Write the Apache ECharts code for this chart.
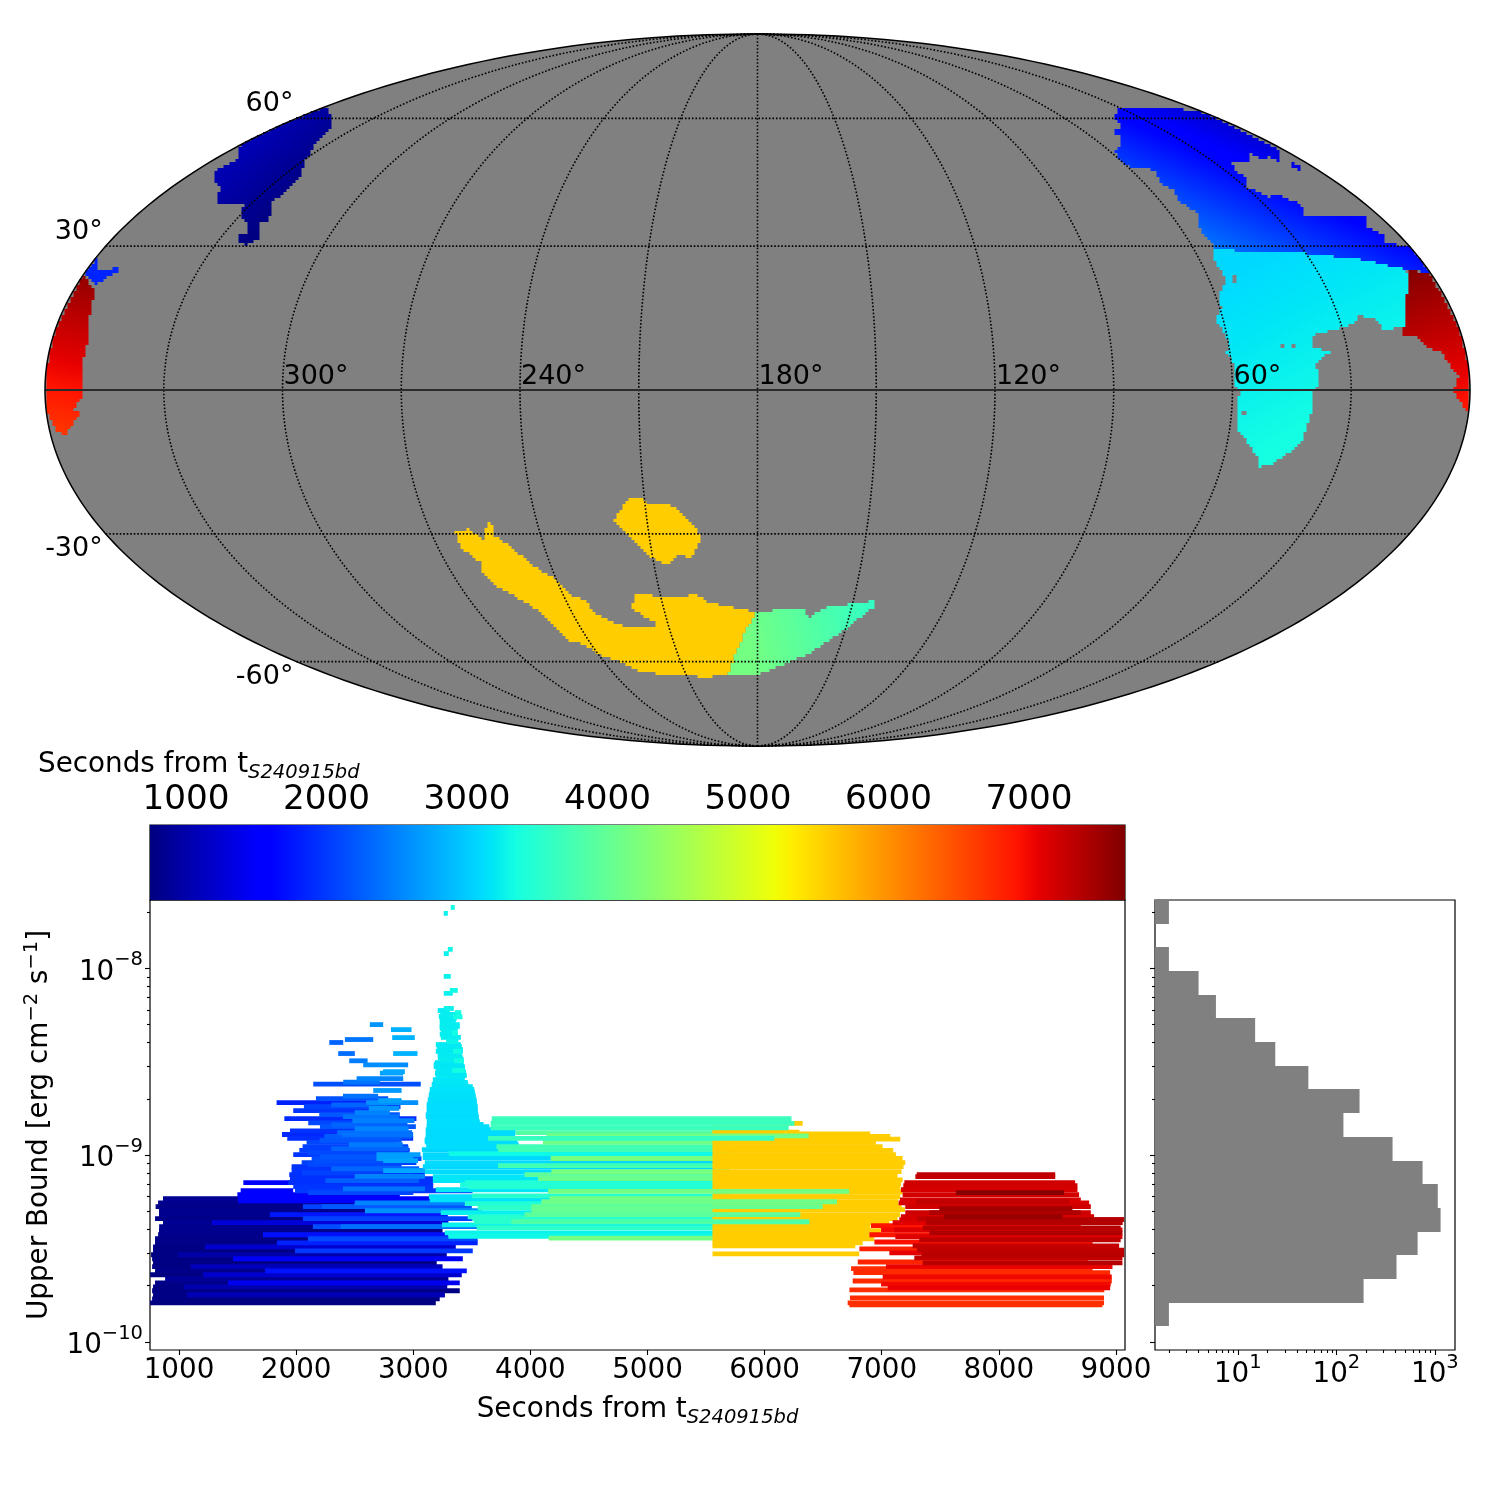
<!DOCTYPE html>
<html><head><meta charset="utf-8">
<style>html,body{margin:0;padding:0;background:#fff}#c{width:1500px;height:1500px}</style>
<script src="https://cdn.jsdelivr.net/npm/echarts@6/dist/echarts.min.js"></script>
</head><body><div id="c"></div>
<script>
const FONT = 'DejaVu Sans';
const colorMin = 744, colorMax = 7683;
const colorTicks = [1000,2000,3000,4000,5000,6000,7000];
const timeTicks = [1000,2000,3000,4000,5000,6000,7000,8000,9000];
const ubUnit = 1e-10;
const ubMajor = [1e-10,1e-9,1e-8];
const ubMinor = [2e-10,3e-10,4e-10,5e-10,6e-10,7e-10,8e-10,9e-10,2e-9,3e-9,4e-9,5e-9,6e-9,7e-9,8e-9,9e-9,2e-8];
const countMajor = [10,100,1000];
const countMinor = [2,3,4,5,6,7,8,9,20,30,40,50,60,70,80,90,200,300,400,500,600,700,800,900];
const jetRed = [[0,0],[.35,0],[.66,1],[.89,1],[1,.5]];
const jetGreen = [[0,0],[.125,0],[.375,1],[.64,1],[.91,0],[1,0]];
const jetBlue = [[0,.5],[.11,1],[.34,1],[.65,0],[1,0]];

// histogram: bin edge exponents (top to bottom) and counts
const histEdgeExp = [-7.634,-7.761,-7.888,-8.014,-8.141,-8.268,-8.395,-8.522,-8.648,-8.775,-8.902,-9.029,-9.156,-9.282,-9.409,-9.536,-9.663,-9.790,-9.917];
const histCounts = [2,0,2,4,6,15,24,52,172,118,372,750,1070,1143,668,408,189,2];

// bars: [upper bound (1e-10), start s, end s]; colour follows start time
const barsNavy = [
[1.62,753,3192],[1.70,770,3226],[1.79,778,3269],[1.79,1068,3269],[1.88,770,3397],[1.97,778,3269],[1.97,1040,3290],
[2.07,795,3300],[2.07,1418,3397],[2.18,881,3300],[2.29,753,3100],[2.29,1205,3414],[2.40,795,3200],[2.40,1734,3457],
[2.53,770,3167],[2.53,1100,3250],[2.65,778,3200],[2.79,770,3200],[2.79,1460,3423],[2.93,761,3150],[2.93,990,3286],
[3.07,778,3280],[3.07,1990,3508],[3.23,778,3100],[3.23,1222,3363],[3.39,795,3000],[3.39,1836,3550],[3.57,795,3100],
[3.57,2100,3550],[3.75,821,3000],[3.75,1717,3300],[3.94,829,3250],[4.14,830,3100],[4.14,2143,3542],[4.14,2380,3542],
[4.35,863,3000],[4.35,1281,3300],[4.57,795,3100],[4.57,2058,3508],[4.80,829,3200],[4.80,1776,3295],[5.04,829,3100],
[5.04,2587,3585],[5.30,800,3100],[5.30,2058,3400],[5.30,2220,3500],[5.56,821,2500],[5.56,2501,3560],[5.70,1503,3440],[5.85,863,1503],[5.85,1503,3141]
];
const barsBlue = [
[6.14,1498,2885],[6.45,1526,1975],[6.45,1990,3505],[6.78,1975,3170],[7.12,1549,1975],[7.12,1933,3170],[7.48,1947,3170],
[7.86,1941,3099],[8.26,1961,3099],[8.26,2743,3099],[8.68,1961,2800],[9.12,2047,3027],[9.58,2132,3070],[9.58,2686,3000],
[10.07,1975,2587],[10.07,2686,3062],[10.6,2027,2970],[11.1,2055,2956],[11.7,2089,2863],[12.3,1924,2999],[12.9,1879,2388],
[12.9,2388,2999],[13.5,1947,2871],[14.2,2203,3022],[14.9,2103,2885],[15.7,1899,3027],[16.5,2197,2885],[17.3,1975,2786],
[18.2,2066,2891],[19.1,1833,2601],[19.1,2601,3042],[20.1,2169,2786],[22.2,2658,2900],[24,2146,3064],[24.6,2402,2715],
[25.7,2516,2914],[27.5,2715,2914],[28,2743,2928],[30.4,2572,2956],[32,2453,2610],[35,2359,2501],[35,2828,3036],
[40.1,2283,2402],[41.6,2416,2658],[42.6,2820,3013],[47,2809,2985],[50,2629,2743],
[6.3,2100,3000],[6.6,2400,3100],[7.3,2250,3050],[7.7,2500,3099],[8.05,2050,3000],[8.46,2300,3050],[8.9,2100,2900],
[9.35,2743,3040],[9.35,2150,2800],[9.8,2200,3000],[10.3,2100,2950],[10.85,2300,2960],[11.4,2450,2910],[12.0,2200,2900],
[12.6,2240,2990],[13.2,2350,2990],[13.85,2500,2960],[14.5,2300,2950],[15.3,2480,3010],[16.1,2400,2880],[16.9,2500,2800],
[17.8,2620,2880],[18.6,2300,2780],[19.6,2700,2900],[20.7,2400,2700]
];
const barsPeak = [
[212,3320,3354],[197,3260,3295],[126.5,3295,3337],[120,3260,3303],[90.6,3260,3320],[76.2,3312,3380],[73.5,3260,3337],
[61,3260,3346],[59.5,3209,3312],[58,3354,3410],[55.3,3218,3406],[52.6,3226,3363],[48.9,3226,3397],[45.9,3235,3354],
[42.7,3235,3406],[40.6,3280,3385],[39.1,3192,3406],[36.8,3201,3423],[34.6,3209,3414],[32.5,3226,3431],[30.6,3175,3414],
[29.1,3192,3440],[26.7,3192,3457],[25.4,3167,3440],[24.5,3184,3465],[23.3,3158,3508],[21.9,3141,3525],[20.6,3133,3533],
[19.4,3124,3542],[18.2,3115,3550],[17.1,3115,3550],[16.1,3107,3559],[15.1,3124,3568],
[44.3,3226,3380],[38.2,3201,3414],[35.9,3192,3423],[33.3,3209,3423],[31.3,3184,3431],[29.8,3175,3440],[28,3192,3448],
[27.4,3185,3450],[23.9,3158,3470],[22.5,3141,3520],[21.1,3133,3530],[19.8,3124,3540],[18.7,3115,3545],[17.5,3115,3550],
[16.5,3107,3555],[15.5,3115,3560],[14.6,3115,3600],[13.7,3107,3750],[12.9,3107,3870],[12.1,3098,3880],[11.4,3110,3900],
[50,3226,3397],[53.9,3226,3370],[56.7,3230,3370],[47.7,3226,3380],
[55,3340,3420],[45,3330,3380],[32,3350,3430],[28.4,3330,3440],[36,3340,3415]
];
const barsCyan = [
[14.2,3115,3650],[13.4,3107,3874],[12.6,3107,3870],[11.8,3098,3890],[11.1,3115,3900],[10.7,3073,3900],[10.2,3303,5700],
[10.07,3081,3900],[9.7,3081,5700],[9.12,3098,5700],[8.68,3081,5700],[8.16,3098,5700],[7.67,3167,5700],[7.3,3167,5700],
[6.95,3400,5700],[6.53,3192,5700],[5.99,3133,5700],[5.77,3141,5700],[5.5,3440,5700],[5.23,3550,5700],[4.92,3235,5700],
[4.68,3465,5700],[4.4,3516,5700],[4.24,3245,5700],[4.08,3542,5700],[3.84,3269,5700],[3.68,3300,5700],[6.78,3470,5700],
[7.12,3440,5700],[6.05,3500,5700],[4.6,3500,5700]
];
const barsGreen = [
[13.2,3874,5700],[11.7,4107,5700],[11.1,3710,5700],[10.7,3724,5700],[9.6,4173,5700],[8.8,3724,5700],[8.16,4179,5700],
[7.86,3950,5700],[7.48,4065,5700],[5.85,4164,5700],[5.04,4008,5700],[3.6,4156,5700]
];
const barsYellow = [
[14.8,5555,6325],[13.3,5555,6297],[13.0,5555,6902],[12.6,5555,7073],[12.2,5555,7158],[11.7,5555,6950],[11.1,5555,7007],
[10.6,5555,7098],[10.07,5555,7121],[9.6,5555,7178],[9.12,5555,7201],[8.68,5555,7186],[8.16,5555,7169],[7.76,5555,7135],
[7.37,5555,7178],[7.0,5555,7164],[6.65,5555,7158],[6.35,5555,7178],[5.99,5555,7158],[5.63,5555,7141],[5.37,5555,7169],
[5.11,5555,7198],[4.8,5555,7158],[4.57,5555,7135],[4.35,5555,7064],[4.14,5555,6902],[3.94,5555,6993],[3.75,5555,6894],
[3.57,5555,6936],[3.39,5555,6837],[3.27,5555,6774],[2.96,5555,6808]
];
const barsRed = [
[7.86,7298,8481],[7.67,7287,8481],[7.12,7193,8651],[6.86,7184,8671],[6.53,7164,8671],[6.3,7633,8557],[6.14,7178,8685],
[5.77,7156,8700],[5.56,7144,8771],[5.63,7292,8600],[5.3,7201,8785],[5.17,7491,8628],[4.92,7201,8785],[4.92,7406,8700],
[4.68,7164,8813],[4.68,7534,8543],[4.57,7300,8550],[4.52,7150,9069],[4.52,7380,9069],[4.35,7093,9055],[4.35,7377,9055],
[4.2,6908,8700],[4.08,7350,9040],[3.98,6994,8880],[3.98,7107,9055],[3.84,7406,9055],[3.75,6894,8700],[3.66,7116,9055],
[3.52,7320,9040],[3.43,6937,8800],[3.27,7264,9027],[3.15,6809,8700],[3.1,7300,9069],[3.0,7065,9069],[2.93,7340,9069],
[2.82,7278,9055],[2.68,6795,8760],[2.65,7350,9055],[2.53,7036,8970],[2.47,6738,8800],[2.35,6758,8950],[2.23,7008,8964],
[2.12,6752,8964],[2.04,6994,8955],[1.95,7051,8950],[1.9,6724,8900],[1.72,6729,8898],[1.62,6709,8898],[1.58,6724,8884]
];
const barsGreenOver = [
[15.7,3670,6229],[14.8,3661,6254],[14,3661,6205],[12.7,4136,6376],[12.3,3638,6083],[6.4,4150,6723],[5.63,4093,6618],
[5.3,4008,6496],[4.8,3951,6305],[4.4,3837,6382]
];

// sky regions: Mollweide plane units (semi-axes 712.5 x 356.25, origin at the map centre)
const mapA = 712.5, mapB = 356.25;
const skyBlueRight = [[359,283],[382,283],[436,280],[459,272],[489,257],[521,240],[524,227],[511,233],[506,230],[492,237],[491,227],[473,228],[479,218],[489,212],[489,203],[511,193],[522,195],[544,185],[546,175],[576,173],[606,175],[611,168],[609,163],[626,155],[629,147],[653,143],[673,117],[649,121],[626,125],[609,130],[589,132],[546,137],[509,137],[457,141],[457,145],[449,153],[441,163],[441,177],[419,190],[418,198],[402,208],[397,220],[377,222],[366,225],[356,240],[364,243],[362,255],[354,258],[364,263],[357,272],[361,282]];
const skyBlueIsland = [[534,229],[544,223],[544,218],[534,223]];
const skyCyan = [[457,141],[509,137],[546,137],[589,132],[609,130],[626,125],[649,121],[651,100],[648,88],[649,70],[646,63],[626,60],[619,70],[602,75],[599,68],[584,62],[569,58],[556,55],[554,43],[573,38],[559,28],[561,3],[554,-2],[556,-12],[551,-33],[544,-53],[517,-73],[502,-77],[499,-65],[481,-40],[479,-22],[482,-2],[477,3],[476,27],[469,38],[471,48],[459,70],[464,83],[461,92],[469,110],[456,132]];
const skyRedRight = [[651,121],[673,115],[689,86],[702,60],[711,23],[712,0],[711,-23],[696,-2],[701,13],[684,37],[671,42],[659,53],[644,53],[648,67],[648,88],[651,103]];
const skyRedLeft = [[-674,114],[-664,102],[-664,92],[-668,73],[-668,57],[-671,42],[-676,23],[-674,5],[-676,-7],[-684,-20],[-677,-23],[-692,-45],[-702,-40],[-710,-22],[-712,0],[-709,33],[-702,60],[-686,93]];
const skyBlueLeft = [[-672,117],[-661,132],[-660,120],[-640,122],[-640,118],[-654,110],[-661,105],[-667,110],[-671,115]];
const skyNavy = [[-431,282],[-424,270],[-429,258],[-441,247],[-452,230],[-457,213],[-471,200],[-486,187],[-488,170],[-498,167],[-499,150],[-511,145],[-518,146],[-518,156],[-509,158],[-510,168],[-517,172],[-514,187],[-527,185],[-542,185],[-537,203],[-544,207],[-542,220],[-521,230],[-517,245],[-484,263],[-451,277]];
const skyYellowA = [[-128,-108],[-118,-107],[-111,-113],[-89,-113],[-78,-122],[-61,-140],[-55,-150],[-61,-157],[-66,-168],[-78,-165],[-91,-175],[-106,-168],[-128,-147],[-143,-130],[-136,-118]];
const skyYellowB = [[-304,-142],[-289,-139],[-274,-150],[-273,-142],[-268,-132],[-262,-137],[-264,-145],[-246,-157],[-228,-173],[-209,-185],[-203,-188],[-194,-198],[-186,-205],[-171,-212],[-164,-222],[-144,-233],[-126,-238],[-104,-238],[-102,-232],[-114,-227],[-126,-217],[-122,-203],[-97,-207],[-61,-205],[-47,-213],[-21,-218],[-1,-222],[-4,-228],[-11,-237],[-16,-250],[-22,-263],[-29,-285],[-51,-287],[-84,-285],[-118,-282],[-138,-272],[-158,-265],[-178,-252],[-186,-253],[-201,-240],[-218,-222],[-241,-207],[-258,-198],[-276,-183],[-276,-173],[-298,-157],[-299,-147]];
const skyGreen = [[-1,-222],[19,-220],[46,-218],[51,-228],[66,-218],[89,-215],[103,-212],[116,-211],[116,-218],[99,-230],[83,-243],[53,-263],[29,-273],[13,-280],[-1,-285],[-29,-285],[-22,-263],[-16,-250],[-11,-237],[-4,-228]];
const skyHoles = [[[475,115],[479,115],[479,107],[475,107]],[[523,46],[527,46],[527,42],[523,42]],[[534,46],[538,46],[538,42],[534,42]],[[484,-21],[489,-21],[489,-25],[484,-25]]];
// each region: outline, time at two anchor points
const skyRegions = [
 {pts:skyNavy, a:[-522,250], b:[-467,190], ta:1120, tb:760},
 {pts:skyBlueLeft, a:[-672,117], b:[-640,117], ta:1850, tb:1850},
 {pts:skyRedLeft, a:[-667,110], b:[-697,-40], ta:7550, tb:6680},
 {pts:skyBlueRight, a:[543,356], b:[441,128], ta:200, tb:2575},
 {pts:skyBlueIsland, a:[543,356], b:[441,128], ta:200, tb:2575},
 {pts:skyCyan, a:[472,120], b:[572,-70], ta:3080, tb:3400},
 {pts:skyRedRight, a:[657,120], b:[707,-20], ta:7650, tb:6880},
 {pts:skyGreen, a:[-10,-250], b:[110,-215], ta:4150, tb:3620},
 {pts:skyYellowA, a:[0,0], b:[1,0], ta:5555, tb:5555},
 {pts:skyYellowB, a:[0,0], b:[1,0], ta:5555, tb:5555}
];
const meridians = [-150,-120,-90,-60,-30,0,30,60,90,120,150];
const parallels = [-60,-30,30,60];
const lonLabels = [[-120,'300°'],[-60,'240°'],[0,'180°'],[60,'120°'],[120,'60°']];
const latLabels = [[60,'60°'],[30,'30°'],[-30,'-30°'],[-60,'-60°']];

function interp(seg,f){for(let i=1;i<seg.length;i++){if(f<=seg[i][0]){const [x0,y0]=seg[i-1],[x1,y1]=seg[i];return y0+(y1-y0)*(f-x0)/(x1-x0);}}return seg[seg.length-1][1];}
function jetFrac(f){f=Math.max(0,Math.min(1,f));const c=s=>Math.round(255*interp(s,f));return 'rgb('+c(jetRed)+','+c(jetGreen)+','+c(jetBlue)+')';}
function jetAt(t){return jetFrac((t-colorMin)/(colorMax-colorMin));}
function mollweide(lon,lat){
  const phi=lat*Math.PI/180;let th=phi;
  if(Math.abs(lat)<90){for(let i=0;i<40;i++){const d=(2*th+Math.sin(2*th)-Math.PI*Math.sin(phi))/(2+2*Math.cos(2*th));th-=d;}}
  return [mapA*lon/180*Math.cos(th),mapB*Math.sin(th)];
}
function range(a,b,s){const o=[];for(let v=a;v<=b+1e-9;v+=s)o.push(v);return o;}
// the sky map is pixelised: each region becomes scanline spans on a coarse lattice
const CELL=3;
function scanSpans(pts){
  const ys=pts.map(p=>p[1]),lo=Math.floor(Math.min(...ys)/CELL),hi=Math.ceil(Math.max(...ys)/CELL),out=[];
  for(let k=lo;k<hi;k++){
    const y=(k+.5)*CELL,xs=[];
    for(let i=0;i<pts.length;i++){
      const [x0,y0]=pts[i],[x1,y1]=pts[(i+1)%pts.length];
      if((y0<=y)!==(y1<=y))xs.push(x0+(y-y0)*(x1-x0)/(y1-y0));
    }
    xs.sort((a,b)=>a-b);
    const lim=mapA*Math.sqrt(Math.max(0,1-(y/mapB)*(y/mapB)));
    for(let i=0;i+1<xs.length;i+=2){
      const x0=Math.max(-lim,Math.round(xs[i]/CELL)*CELL),x1=Math.min(lim,Math.round(xs[i+1]/CELL)*CELL);
      if(x1>x0)out.push([x0,x1,k*CELL,(k+1)*CELL]);
    }
  }
  return out;
}
const outline=[...range(-90,90,1).map(l=>mollweide(180,l)),...range(-90,90,1).reverse().map(l=>mollweide(-180,l))];
const graticule=[...meridians.map(m=>range(-90,90,2).map(l=>mollweide(m,l))),...parallels.map(p=>range(-180,180,4).map(l=>mollweide(l,p)))];
const equator=range(-180,180,10).map(l=>mollweide(l,0));

const barRows=[...barsNavy,...barsBlue,...barsPeak,...barsCyan,...barsGreen,...barsYellow,...barsRed].sort((p,q)=>p[1]-q[1]).concat(barsGreenOver);
const histData=histCounts.map((n,i)=>[Math.pow(10,histEdgeExp[i+1]),Math.pow(10,histEdgeExp[i]),n]).filter(d=>d[2]>0);

const axisCommon={axisLine:{show:false},splitLine:{show:false}};
const tickStyle={color:'#000',width:1.1};
const plain=v=>String(v);
const supLabel=v=>{const e=Math.round(Math.log10(v));return '{b|10}{s|'+String(e).replace('-','−')+'}';};
const labelRich={b:{fontFamily:FONT,fontSize:27.8,color:'#000',lineHeight:36,verticalAlign:'bottom'},s:{fontFamily:FONT,fontSize:19.5,color:'#000',lineHeight:36,verticalAlign:'top'}};
const nameRich={a:{fontFamily:FONT,fontSize:27.8,fontWeight:'normal',color:'#000',lineHeight:36},s:{fontFamily:FONT,fontSize:19.5,fontWeight:'normal',color:'#000',lineHeight:36,verticalAlign:'top'},i:{fontFamily:FONT,fontSize:19.5,fontWeight:'normal',fontStyle:'italic',color:'#000',lineHeight:36,verticalAlign:'bottom'}};
const ubMin=Math.pow(10,-10.043),ubMax=Math.pow(10,-7.634),countMin=1.445,countMax=1600;
const gridBorder={show:true,borderColor:'#000',borderWidth:1.2,backgroundColor:'transparent'};

const option={
 animation:false,backgroundColor:'#fff',
 title:{left:38,top:747,padding:0,text:'{a|Seconds from t}{i|S240915bd}',textStyle:{fontWeight:'normal',rich:nameRich}},
 grid:[
  {left:45,top:34,width:1425,height:712,show:false},
  {left:150,top:825,width:975,height:75,...gridBorder},
  {left:150,top:900,width:975,height:450,...gridBorder},
  {left:1155,top:900,width:300,height:450,...gridBorder}
 ],
 xAxis:[
  {type:'value',gridIndex:0,min:-mapA,max:mapA,show:false},
  {type:'value',gridIndex:1,position:'top',min:colorMin,max:colorMax,...axisCommon,
   axisTick:{customValues:colorTicks,length:5,lineStyle:tickStyle},
   axisLabel:{customValues:colorTicks,formatter:plain,fontFamily:FONT,fontSize:34.2,color:'#000',margin:8}},
  {type:'value',gridIndex:2,min:752,max:9077,...axisCommon,
   name:'{a|Seconds from t}{i|S240915bd}',nameLocation:'middle',nameGap:42,nameTextStyle:{rich:nameRich},
   axisTick:{customValues:timeTicks,length:5,lineStyle:tickStyle},
   axisLabel:{customValues:timeTicks,formatter:plain,fontFamily:FONT,fontSize:27.8,color:'#000',margin:7}},
  {type:'log',gridIndex:3,position:'bottom',min:countMin,max:countMax,logBase:10,...axisCommon,
   axisTick:{customValues:countMajor,length:5,lineStyle:tickStyle},
   axisLabel:{customValues:countMajor,formatter:supLabel,rich:labelRich,margin:3}},
  {type:'log',gridIndex:3,position:'bottom',min:countMin,max:countMax,logBase:10,...axisCommon,
   axisTick:{customValues:countMinor,length:3,lineStyle:tickStyle},axisLabel:{show:false}}
 ],
 yAxis:[
  {type:'value',gridIndex:0,min:-356,max:356,show:false},
  {type:'value',gridIndex:1,min:0,max:1,show:false},
  {type:'log',gridIndex:2,position:'left',min:ubMin,max:ubMax,logBase:10,...axisCommon,
   name:'{a|Upper Bound [erg cm}{s|−2}{a| s}{s|−1}{a|]}',nameLocation:'middle',nameRotate:90,nameGap:92,nameTextStyle:{rich:nameRich},
   axisTick:{customValues:ubMajor,length:5,lineStyle:tickStyle},
   axisLabel:{customValues:ubMajor,formatter:supLabel,rich:labelRich,margin:7}},
  {type:'log',gridIndex:2,position:'left',min:ubMin,max:ubMax,logBase:10,...axisCommon,
   axisTick:{customValues:ubMinor,length:3,lineStyle:tickStyle},axisLabel:{show:false}},
  {type:'log',gridIndex:3,position:'left',min:ubMin,max:ubMax,logBase:10,...axisCommon,
   axisTick:{customValues:ubMajor,length:5,lineStyle:tickStyle},axisLabel:{show:false}},
  {type:'log',gridIndex:3,position:'left',min:ubMin,max:ubMax,logBase:10,...axisCommon,
   axisTick:{customValues:ubMinor,length:3,lineStyle:tickStyle},axisLabel:{show:false}}
 ],
 series:[
  {type:'custom',xAxisIndex:0,yAxisIndex:0,clip:false,silent:true,data:[0],z:1,
   renderItem:(p,api)=>({type:'polygon',shape:{points:outline.map(q=>api.coord(q))},style:{fill:'#808080'}})},
  {type:'custom',xAxisIndex:0,yAxisIndex:0,clip:false,silent:true,data:skyRegions.map((r,i)=>i),z:2,
   renderItem:(p,api)=>{
     const r=skyRegions[p.dataIndex];
     const A=api.coord(r.a),B=api.coord(r.b);
     const stops=range(0,1,.05).map(f=>({offset:Math.min(1,f),color:jetAt(r.ta+(r.tb-r.ta)*f)}));
     const fill=new echarts.graphic.LinearGradient(A[0],A[1],B[0],B[1],stops,true);
     return {type:'group',children:scanSpans(r.pts).map(s=>{
       const c0=api.coord([s[0],s[3]]),c1=api.coord([s[1],s[2]]);
       return {type:'rect',shape:{x:c0[0],y:c0[1],width:c1[0]-c0[0],height:c1[1]-c0[1]},style:{fill}};
     })};
   }},
  {type:'custom',xAxisIndex:0,yAxisIndex:0,clip:false,silent:true,data:skyHoles.map((r,i)=>i),z:3,
   renderItem:(p,api)=>({type:'polygon',shape:{points:skyHoles[p.dataIndex].map(q=>api.coord(q))},style:{fill:'#808080'}})},
  {type:'custom',xAxisIndex:0,yAxisIndex:0,clip:false,silent:true,data:graticule.map((r,i)=>i),z:4,
   renderItem:(p,api)=>({type:'polyline',shape:{points:graticule[p.dataIndex].map(q=>api.coord(q))},
     style:{fill:null,stroke:'#000',lineWidth:1.6,lineDash:[1.6,1.9]}})},
  {type:'custom',xAxisIndex:0,yAxisIndex:0,clip:false,silent:true,data:[0],z:5,
   renderItem:(p,api)=>({type:'polyline',shape:{points:equator.map(q=>api.coord(q))},style:{fill:null,stroke:'#2b2b2b',lineWidth:1.8}})},
  {type:'custom',xAxisIndex:0,yAxisIndex:0,clip:false,silent:true,data:[0],z:6,
   renderItem:(p,api)=>({type:'polygon',shape:{points:outline.map(q=>api.coord(q))},style:{fill:null,stroke:'#000',lineWidth:1.5}})},
  {type:'custom',xAxisIndex:0,yAxisIndex:0,clip:false,silent:true,data:lonLabels.map((r,i)=>i),z:7,
   renderItem:(p,api)=>{const [lo,t]=lonLabels[p.dataIndex];const c=api.coord(mollweide(lo,0));
     return {type:'text',x:c[0]+1,y:c[1],style:{text:t,fontFamily:FONT,fontSize:27,fill:'#000',align:'left',verticalAlign:'bottom'}};}},
  {type:'custom',xAxisIndex:0,yAxisIndex:0,clip:false,silent:true,data:latLabels.map((r,i)=>i),z:7,
   renderItem:(p,api)=>{const [la,t]=latLabels[p.dataIndex];const c=api.coord(mollweide(-180,la));
     return {type:'text',x:c[0]-3,y:la>0?c[1]-1:c[1]+2,style:{text:t,fontFamily:FONT,fontSize:27,fill:'#000',align:'right',verticalAlign:la>0?'bottom':'top'}};}},
  {type:'custom',xAxisIndex:1,yAxisIndex:1,silent:true,data:[[colorMin,colorMax]],z:2,
   renderItem:(p,api)=>{
     const a=api.coord([api.value(0),1]),b=api.coord([api.value(1),0]);
     const fr=[0,.11,.125,.34,.35,.375,.64,.65,.66,.89,.91,1];
     return {type:'rect',shape:{x:a[0],y:a[1],width:b[0]-a[0],height:b[1]-a[1]},
       style:{fill:new echarts.graphic.LinearGradient(0,0,1,0,fr.map(f=>({offset:f,color:jetFrac(f)})))}};
   }},
  {type:'custom',xAxisIndex:2,yAxisIndex:2,silent:true,clip:true,z:2,
   data:barRows.map(r=>[r[1],r[2],r[0]*ubUnit]),dimensions:['t0','t1','ub'],encode:{x:[0,1],y:2},
   renderItem:(p,api)=>{
     const t0=api.value(0),a=api.coord([t0,api.value(2)]),b=api.coord([api.value(1),api.value(2)]);
     return {type:'rect',shape:{x:a[0],y:a[1]-2.4,width:b[0]-a[0],height:4.8},style:{fill:jetAt(t0)}};
   }},
  {type:'custom',xAxisIndex:3,yAxisIndex:4,silent:true,clip:true,z:2,
   data:histData,dimensions:['low','high','count'],encode:{x:2,y:[0,1]},
   renderItem:(p,api)=>{
     const a=api.coord([countMin,api.value(1)]),b=api.coord([api.value(2),api.value(0)]);
     const y0=Math.round(a[1]),y1=Math.round(b[1]);
     return {type:'rect',shape:{x:a[0],y:y0,width:b[0]-a[0],height:y1-y0},style:{fill:'#808080'}};
   }}
 ]
};
const chart=echarts.init(document.getElementById('c'),null,{renderer:'canvas',width:1500,height:1500});
chart.setOption(option);
</script></body></html>
